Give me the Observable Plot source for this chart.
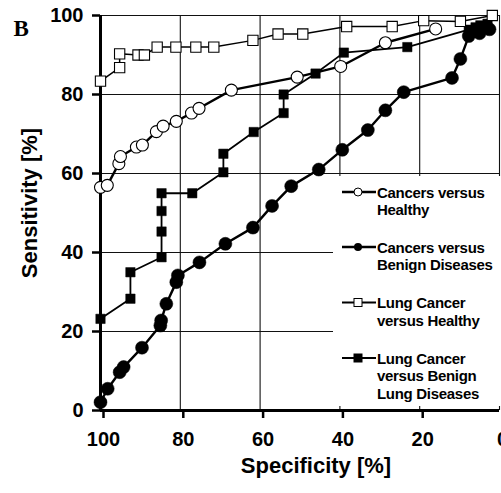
<!DOCTYPE html>
<html>
<head>
<meta charset="utf-8">
<script src="https://cdn.jsdelivr.net/npm/d3@7"></script>
<script src="https://cdn.jsdelivr.net/npm/@observablehq/plot@0.6"></script>
<style>
  html, body { margin: 0; padding: 0; background: white; }
  svg { display: block; }
</style>
</head>
<body>
<div id="chart"></div>
<script>
// Tick values
const xTicks = [100, 80, 60, 40, 20, 0];
const yTicks = [0, 20, 40, 60, 80, 100];

// Cancers versus Healthy (open circles)
const specCH = [100, 98.3, 95.4, 95, 91, 89.5, 86, 84.3, 81, 77.2, 75.3, 67.2, 50.7, 39.8, 28.6, 16];
const sensCH = [56.5, 57, 62.5, 64.3, 66.7, 67.2, 70.6, 72, 73.2, 75.3, 76.5, 81.1, 84.4, 87.1, 93.1, 96.6];

// Cancers versus Benign Diseases (filled circles)
const specCB = [100, 98.2, 95.2, 94.2, 89.6, 85, 84.8, 83.5, 81, 80.6, 75.2, 68.7, 61.8, 57, 52.2, 45.3, 39.4, 33, 28.6, 24, 11.9, 9.8, 7.7, 5, 2.5];
const sensCB = [2.1, 5.5, 9.7, 11, 15.9, 21.5, 22.8, 27, 32.5, 34.2, 37.5, 42.2, 46.3, 51.8, 56.8, 61, 66, 71, 76, 80.6, 84.2, 89, 94.8, 95.5, 96.5];

// Lung Cancer versus Healthy (open squares)
const specLH = [100, 95.2, 95.2, 90.6, 89, 85.8, 81.1, 76.1, 71.6, 61.8, 55.5, 49.3, 38.3, 26.9, 19, 9.8, 1.8];
const sensLH = [83.4, 86.8, 90.3, 90, 90, 92, 92, 92, 92, 93.7, 95.3, 95.3, 97.2, 97.2, 98.7, 98.5, 100];

// Lung Cancer versus Benign Lung Diseases (filled squares)
const specLB = [100, 92.5, 92.5, 84.7, 84.7, 84.7, 84.7, 77, 69.2, 69.2, 61.6, 54.1, 54.1, 46.1, 39, 23.1, 7.7, 6, 4.8, 3];
const sensLB = [23.2, 28.3, 35, 38.8, 45.3, 50.5, 55, 55, 60.3, 65, 70.5, 75.3, 80, 85.3, 90.6, 92, 96.4, 97, 97.5, 97.9];

const legendLabels = [
  ["Cancers versus", "Healthy"],
  ["Cancers versus", "Benign Diseases"],
  ["Lung Cancer", "versus Healthy"],
  ["Lung Cancer", "versus Benign", "Lung Diseases"]
];

const toRows = (xs, ys) => xs.map((x, i) => ({spec: x, sens: ys[i]}));
const CH = toRows(specCH, sensCH);
const CB = toRows(specCB, sensCB);
const LH = toRows(specLH, sensLH);
const LB = toRows(specLB, sensLB);

const font = "'Liberation Sans', Arial, Helvetica, sans-serif";

const plot = Plot.plot({
  width: 501,
  height: 493,
  marginLeft: 100,
  marginRight: 2,
  marginTop: 15,
  marginBottom: 83,
  style: {fontFamily: font, background: "white", overflow: "visible", color: "black"},
  x: {domain: [100, 0]},
  y: {domain: [0, 100]},
  marks: [
    Plot.gridX(xTicks.filter(d => d !== 100), {stroke: "#111", strokeOpacity: 1, strokeWidth: 1.1}),
    Plot.gridY(yTicks.filter(d => d !== 0), {stroke: "#111", strokeOpacity: 1, strokeWidth: 1.1}),
    Plot.axisX(xTicks, {tickSize: 8, tickPadding: 13, strokeWidth: 2.5, fontSize: 20, fontWeight: "bold", letterSpacing: "0.4px", label: null, dx: 3}),
    Plot.axisY(yTicks, {tickSize: 8, tickPadding: 9, strokeWidth: 2.5, fontSize: 20, fontWeight: "bold", letterSpacing: "0.4px", label: null}),
    Plot.ruleX([100], {strokeWidth: 3}),
    Plot.ruleY([0], {strokeWidth: 3}),
    Plot.text(["Specificity [%]"], {frameAnchor: "bottom", dx: 16, dy: 62, fontSize: 22, fontWeight: "bold", letterSpacing: "0.6px", textAnchor: "middle"}),
    Plot.text(["Sensitivity [%]"], {frameAnchor: "left", dx: -71, dy: -10, rotate: -90, fontSize: 22, fontWeight: "bold", letterSpacing: "0.8px", textAnchor: "middle"}),
    Plot.text(["B"], {frameAnchor: "top-left", dx: -87, dy: 4, fontSize: 23, fontWeight: "bold", fontFamily: "'Liberation Serif', 'Times New Roman', serif", textAnchor: "start"}),
    // Cancers vs Benign (filled circles)
    Plot.line(CB, {x: "spec", y: "sens", stroke: "black", strokeWidth: 2.4}),
    Plot.dot(CB, {x: "spec", y: "sens", r: 6.5, fill: "black", stroke: "black", strokeWidth: 0.5}),
    // Cancers vs Healthy (open circles)
    Plot.line(CH, {x: "spec", y: "sens", stroke: "black", strokeWidth: 2.4}),
    Plot.dot(CH, {x: "spec", y: "sens", r: 6, fill: "white", stroke: "black", strokeWidth: 1.1}),
    // Lung Cancer vs Benign (filled squares)
    Plot.line(LB, {x: "spec", y: "sens", stroke: "black", strokeWidth: 1.8}),
    Plot.dot(LB, {x: "spec", y: "sens", symbol: "square", r: 5.3, fill: "black", stroke: "black", strokeWidth: 0.5}),
    // Lung Cancer vs Healthy (open squares)
    Plot.line(LH, {x: "spec", y: "sens", stroke: "black", strokeWidth: 1.5}),
    Plot.dot(LH, {x: "spec", y: "sens", symbol: "square", r: 5.8, fill: "white", stroke: "black", strokeWidth: 1.1})
  ]
});

// Legend (drawn inside the plot area, white box hides gridlines)
const svg = d3.select(plot);
const lg = svg.append("g")
  .attr("font-family", font)
  .attr("font-weight", "bold")
  .attr("font-size", 15)
  .attr("text-anchor", "start");
lg.append("rect").attr("x", 333).attr("y", 176).attr("width", 170).attr("height", 230).attr("fill", "white");
const entryTop = [192, 247, 302.5, 358];
const markers = ["openCircle", "filledCircle", "openSquare", "filledSquare"];
legendLabels.forEach((lines, i) => {
  const cy = entryTop[i];
  lg.append("line").attr("x1", 342).attr("x2", 376).attr("y1", cy).attr("y2", cy)
    .attr("stroke", "black").attr("stroke-width", i < 2 ? 2.4 : 1.8);
  const m = markers[i];
  if (m === "openCircle") {
    lg.append("circle").attr("cx", 358).attr("cy", cy).attr("r", 4).attr("fill", "white").attr("stroke", "black").attr("stroke-width", 1);
  } else if (m === "filledCircle") {
    lg.append("circle").attr("cx", 358).attr("cy", cy).attr("r", 4).attr("fill", "black");
  } else {
    lg.append("rect").attr("x", 354).attr("y", cy - 4).attr("width", 8).attr("height", 8)
      .attr("fill", m === "openSquare" ? "white" : "black").attr("stroke", "black").attr("stroke-width", 1);
  }
  lines.forEach((t, j) => {
    lg.append("text").attr("x", 377).attr("y", cy + 5.5 + j * 17.8)
      .attr("text-anchor", "start").attr("letter-spacing", "-0.3px").text(t);
  });
});

document.getElementById("chart").appendChild(plot);
</script>
</body>
</html>
